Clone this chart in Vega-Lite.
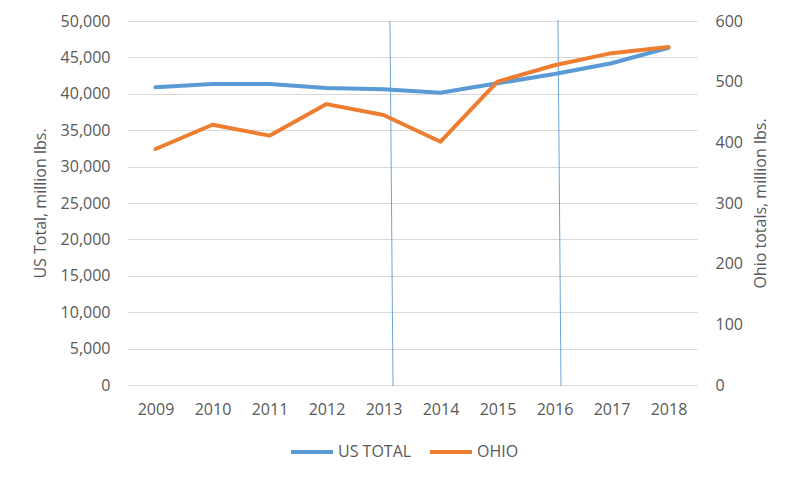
{
  "$schema": "https://vega.github.io/schema/vega-lite/v6.json",
  "width": 570,
  "height": 364,
  "autosize": {"type": "none"},
  "padding": {"left": 127, "top": 21, "right": 103, "bottom": 97},
  "background": "white",
  "config": {
    "view": {"stroke": null},
    "font": "Open Sans",
    "axis": {"labelFont": "Open Sans", "labelFontSize": 16, "labelColor": "#595959", "titleFont": "Open Sans", "titleFontSize": 16, "titleColor": "#595959", "titleFontWeight": "normal", "domain": false, "ticks": false, "tickSize": 0, "labelOverlap": false},
    "legend": {"labelFont": "Open Sans", "labelFontSize": 16, "labelColor": "#595959"}
  },
  "datasets": {
    "main": [
      {"year": 2009, "us": 40900, "ohio": 389},
      {"year": 2010, "us": 41350, "ohio": 429},
      {"year": 2011, "us": 41350, "ohio": 411},
      {"year": 2012, "us": 40800, "ohio": 463},
      {"year": 2013, "us": 40620, "ohio": 445},
      {"year": 2014, "us": 40150, "ohio": 401},
      {"year": 2015, "us": 41440, "ohio": 500},
      {"year": 2016, "us": 42720, "ohio": 527},
      {"year": 2017, "us": 44190, "ohio": 547},
      {"year": 2018, "us": 46330, "ohio": 557}
    ],
    "marks": [
      {"x": 2013.114, "x2": 2013.167, "y": 50000, "y2": -120},
      {"x": 2016.061, "x2": 2016.114, "y": 50140, "y2": -100}
    ]
  },
  "layer": [
    {
      "layer": [
        {
          "data": {"name": "main"},
          "mark": {"type": "line", "strokeWidth": 4, "strokeCap": "round", "strokeJoin": "round"},
          "encoding": {
            "x": {"field": "year", "type": "quantitative", "scale": {"domain": [2008.5, 2018.5], "nice": false, "zero": false},
                  "axis": {"values": [2009, 2010, 2011, 2012, 2013, 2014, 2015, 2016, 2017, 2018], "format": "d", "grid": false, "title": null, "labelPadding": 16}},
            "y": {"field": "us", "type": "quantitative", "scale": {"domain": [0, 50000], "nice": false},
                  "axis": {"values": [0, 5000, 10000, 15000, 20000, 25000, 30000, 35000, 40000, 45000, 50000], "format": ",d", "title": "US Total, million lbs.", "grid": true, "gridColor": "#D9D9D9", "gridWidth": 1, "labelPadding": 17, "titlePadding": 12, "orient": "left"}},
            "color": {"datum": "US TOTAL", "type": "nominal", "scale": {"domain": ["US TOTAL", "OHIO"], "range": ["#5B9BD5", "#ED7D31"]},
                      "legend": {"title": null, "orient": "none", "direction": "horizontal", "legendX": 162, "legendY": 408, "symbolType": "stroke", "symbolSize": 1764, "symbolStrokeWidth": 4, "labelOffset": 3, "columnPadding": 10}}
          }
        },
        {
          "data": {"name": "marks"},
          "mark": {"type": "rule", "color": "#5B9BD5", "strokeWidth": 1, "opacity": 0.9},
          "encoding": {
            "x": {"field": "x", "type": "quantitative",
                  "axis": {"values": [2009, 2010, 2011, 2012, 2013, 2014, 2015, 2016, 2017, 2018], "format": "d", "grid": false, "title": null, "labelPadding": 16}},
            "x2": {"field": "x2"},
            "y": {"field": "y", "type": "quantitative",
                  "axis": {"values": [0, 5000, 10000, 15000, 20000, 25000, 30000, 35000, 40000, 45000, 50000], "format": ",d", "title": "US Total, million lbs.", "grid": true, "gridColor": "#D9D9D9", "gridWidth": 1, "labelPadding": 17, "titlePadding": 12, "orient": "left"}},
            "y2": {"field": "y2"}
          }
        }
      ]
    },
    {
      "data": {"name": "main"},
      "mark": {"type": "line", "strokeWidth": 4, "strokeCap": "round", "strokeJoin": "round"},
      "encoding": {
        "x": {"field": "year", "type": "quantitative"},
        "y": {"field": "ohio", "type": "quantitative", "scale": {"domain": [0, 600], "nice": false},
              "axis": {"orient": "right", "values": [0, 100, 200, 300, 400, 500, 600], "title": "Ohio totals, million lbs.", "titleAngle": -90, "titleBaseline": "top", "grid": false, "labelPadding": 18, "titlePadding": 10}},
        "color": {"datum": "OHIO", "type": "nominal"}
      }
    }
  ],
  "resolve": {"scale": {"y": "independent"}, "axis": {"y": "independent"}}
}
